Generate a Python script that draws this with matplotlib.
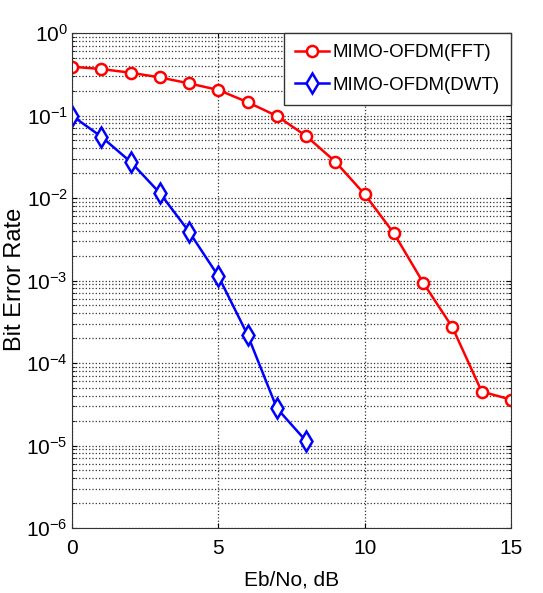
import numpy as np
import matplotlib
matplotlib.use('Agg')
import matplotlib.pyplot as plt

# Eb/No in dB
ebno_fft = [0, 1, 2, 3, 4, 5, 6, 7, 8, 9, 10, 11, 12, 13, 14, 15]
ber_fft = [0.39, 0.366, 0.33, 0.29, 0.245, 0.204, 0.145, 0.0986, 0.0565,
           0.0275, 0.0111, 0.00373, 9.4e-4, 2.7e-4, 4.5e-5, 3.6e-5]

ebno_dwt = [0, 1, 2, 3, 4, 5, 6, 7, 8]
ber_dwt = [0.0995, 0.0554, 0.0275, 0.0115, 0.0039, 1.13e-3, 2.19e-4,
           2.83e-5, 1.13e-5]

plt.rcParams['font.family'] = ['Liberation Sans', 'DejaVu Sans']
plt.rcParams['mathtext.fontset'] = 'custom'
plt.rcParams['mathtext.rm'] = 'Liberation Sans'
plt.rcParams['mathtext.it'] = 'Liberation Sans'

fig = plt.figure(figsize=(5.43, 5.93), dpi=100)
ax = fig.add_axes([72 / 543, 1 - 528 / 593, (511 - 72) / 543, (528 - 33) / 593])

ax.semilogy(ebno_fft, ber_fft, color='red', lw=1.8, marker='o', ms=8,
            mfc='white', mec='red', mew=1.8, label='MIMO-OFDM(FFT)')
ax.semilogy(ebno_dwt, ber_dwt, color='blue', lw=1.8, marker='d', ms=10,
            mfc='white', mec='blue', mew=1.8, label='MIMO-OFDM(DWT)')

ax.set_xlim(0, 15)
ax.set_ylim(1e-6, 1)
ax.set_xticks([0, 5, 10, 15])
ax.grid(True, which='major', ls=':', color='#333333', lw=0.9)
ax.grid(True, which='minor', axis='y', ls=':', color='#333333', lw=0.9)
ax.tick_params(which='both', direction='in', top=True, right=True, labelsize=15)
ax.tick_params(axis='x', pad=8)
ax.tick_params(axis='y', pad=3)
ax.tick_params(which='minor', labelleft=False)
for s in ax.spines.values():
    s.set_color('#333333')

ax.set_xlabel('Eb/No, dB', fontsize=15)
ax.xaxis.set_label_coords(0.5, -0.085)
ax.set_ylabel('Bit Error Rate', fontsize=17)
ax.yaxis.set_label_coords(-0.105, 0.503)

leg = ax.legend(loc='upper right', fontsize=13.5, fancybox=False, framealpha=1,
                edgecolor='#333333', borderaxespad=0, handlelength=1.8,
                borderpad=0.6, labelspacing=0.8, handletextpad=0.2)

fig.savefig('out.png', dpi=100)
